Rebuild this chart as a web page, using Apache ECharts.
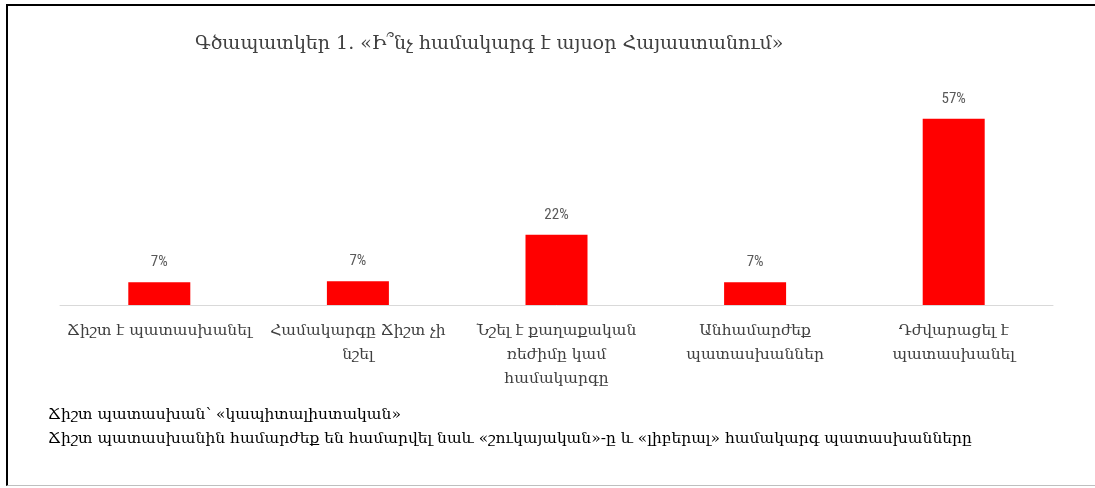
<!DOCTYPE html>
<html>
<head>
<meta charset="utf-8">
<script src="https://cdn.jsdelivr.net/npm/echarts@6/dist/echarts.min.js"></script>
<style>
html,body{margin:0;padding:0;background:#fff;}
#frame{position:absolute;left:6px;top:4px;width:1089px;height:482px;border-top:2px solid #000;border-left:2px solid #000;border-bottom:1px solid #bfbfbf;box-sizing:border-box;}
#chart{position:absolute;left:0;top:0;width:1095px;height:488px;}
</style>
</head>
<body>
<div id="frame"></div>
<div id="chart"></div>
<script>
var titleText = 'Գծապատկեր 1. «Ի՞նչ համակարգ է այսօր Հայաստանում»';
var categories = [
  'Ճիշտ է պատասխանել',
  'Համակարգը Ճիշտ չի\nնշել',
  'Նշել է քաղաքական\nռեժիմը կամ\nհամակարգը',
  'Անհամարժեք\nպատասխաններ',
  'Դժվարացել է\nպատասխանել'
];
var values = [7.0, 7.3, 21.5, 7.0, 57.0];
var notes = [
  'Ճիշտ պատասխան՝ «կապիտալիստական»',
  'Ճիշտ պատասխանին համարժեք են համարվել նաև «շուկայական»-ը և «լիբերալ» համակարգ պատասխանները'
];

var chart = echarts.init(document.getElementById('chart'));
chart.setOption({
  animation: false,
  title: {
    text: titleText,
    left: 190,
    top: 30,
    textStyle: {fontFamily: 'DejaVu Serif', fontSize: 19, fontWeight: 'normal', color: '#404040'}
  },
  grid: {left: 60, right: 42, top: 60, bottom: 183, containLabel: false},
  xAxis: {
    type: 'category',
    data: categories,
    axisLine: {lineStyle: {color: '#d9d9d9', width: 1}},
    axisTick: {show: false},
    axisLabel: {
      interval: 0,
      margin: 14,
      fontFamily: 'DejaVu Serif',
      fontSize: 15.5,
      lineHeight: 24,
      color: '#404040'
    }
  },
  yAxis: {
    type: 'value',
    min: 0,
    max: 75,
    show: false,
    splitLine: {show: false}
  },
  series: [{
    type: 'bar',
    data: values,
    barWidth: 62,
    itemStyle: {color: '#ff0000'},
    label: {
      show: true,
      position: 'top',
      distance: 12,
      fontFamily: 'Liberation Sans Narrow, Roboto Condensed, Liberation Sans',
      fontSize: 15,
      color: '#595959',
      formatter: function (p) { return Math.round(p.value) + '%'; }
    }
  }],
  graphic: [
    {type: 'text', left: 48, top: 407, style: {text: notes[0], font: '15.5px "DejaVu Serif"', fill: '#000'}},
    {type: 'text', left: 48, top: 431, style: {text: notes[1], font: '15.5px "DejaVu Serif"', fill: '#000'}}
  ]
});
</script>
</body>
</html>
